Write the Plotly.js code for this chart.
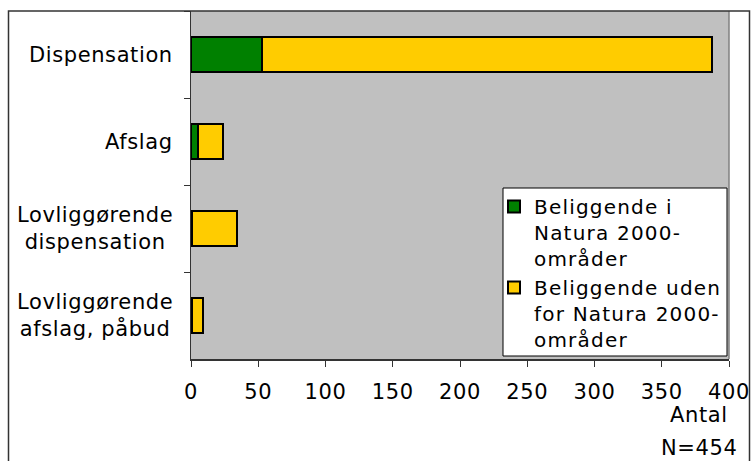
<!DOCTYPE html>
<html>
<head>
<meta charset="utf-8">
<script src="https://cdn.plot.ly/plotly-3.0.1.min.js"></script>
<style>
html,body{margin:0;padding:0;background:#fff;}
#chart{width:751px;height:461px;}
.annotation-text, .xtick text { letter-spacing: 0.6px; }
.legendtext { letter-spacing: 1.2px; }
</style>
</head>
<body>
<div id="chart"></div>
<script>
var categories = ['Dispensation', 'Afslag', 'Lovliggørende dispensation', 'Lovliggørende afslag, påbud'];
var categoryLabels = ['Dispensation', 'Afslag', 'Lovliggørende<br>dispensation', 'Lovliggørende<br>afslag, påbud'];
var inNatura = [53, 5, 1, 1];
var outsideNatura = [334, 19, 33, 8];
var seriesNames = ['Beliggende i<br>Natura 2000-<br>områder', 'Beliggende uden<br>for Natura 2000-<br>områder'];
var xTicks = [0, 50, 100, 150, 200, 250, 300, 350, 400];
var xTitle = 'Antal';
var nNote = 'N=454';

var W = 751, H = 461;
var L = 191, R = 729, T = 11, B = 359;
function px(x) { return (x - L) / (R - L); }
function py(y) { return (B - y) / (B - T); }

var FONT = 'DejaVu Sans, Verdana, sans-serif';

var traces = [
  {type: 'bar', orientation: 'h', y: categories, x: inNatura, name: seriesNames[0],
   marker: {color: '#008000', line: {color: '#000', width: 2}}},
  {type: 'bar', orientation: 'h', y: categories, x: outsideNatura, name: seriesNames[1],
   marker: {color: '#FFCC00', line: {color: '#000', width: 2}}}
];

var annotations = categories.map(function (c, i) {
  return {xref: 'paper', yref: 'y', x: px(174), y: c, text: categoryLabels[i],
    showarrow: false, xanchor: 'right', yanchor: 'middle', align: 'center', borderpad: 0,
    font: {family: FONT, size: 21, color: '#000'}};
});
annotations.push({xref: 'paper', yref: 'paper', x: 1, y: py(415), text: xTitle, showarrow: false,
  xanchor: 'right', yanchor: 'middle', borderpad: 0, font: {family: FONT, size: 21, color: '#000'}});
annotations.push({xref: 'paper', yref: 'paper', x: px(738), y: py(448), text: nNote, showarrow: false,
  xanchor: 'right', yanchor: 'middle', borderpad: 0, font: {family: FONT, size: 21, color: '#000'}});

var layout = {
  width: W, height: H,
  margin: {l: L, r: W - R, t: T, b: H - B, pad: 0},
  paper_bgcolor: '#fff',
  plot_bgcolor: '#C0C0C0',
  barmode: 'stack',
  bargap: 0.6,
  showlegend: true,
  font: {family: FONT, size: 21, color: '#000'},
  xaxis: {range: [0, 400], tickvals: xTicks, ticktext: xTicks.map(String), showgrid: false, zeroline: false,
    showline: true, linecolor: '#333', linewidth: 1.5, ticks: 'outside', ticklen: 6, tickwidth: 1,
    tickcolor: '#333', ticklabelstandoff: 7, tickfont: {family: FONT, size: 21, color: '#000'}, fixedrange: true},
  yaxis: {type: 'category', categoryorder: 'array', categoryarray: categories, autorange: 'reversed',
    showgrid: false, zeroline: false, showline: true, linecolor: '#333', linewidth: 1.5,
    ticks: 'outside', tickson: 'boundaries', ticklen: 6, tickwidth: 1, tickcolor: '#333',
    showticklabels: false, fixedrange: true},
  legend: {x: px(494), xanchor: 'left', y: py(187), yanchor: 'top', bgcolor: 'rgba(0,0,0,0)',
    borderwidth: 0, traceorder: 'normal', valign: 'top',
    font: {family: FONT, size: 20, color: '#000'}},
  annotations: annotations,
  shapes: [
    {type: 'line', xref: 'paper', yref: 'paper', x0: 1, x1: 1, y0: 0, y1: 1,
     line: {color: '#808080', width: 1.5}},
    {type: 'rect', xref: 'paper', yref: 'paper', x0: px(503), x1: px(727), y0: py(356), y1: py(188),
     line: {color: '#000', width: 1}, fillcolor: '#fff'},
    {type: 'rect', xref: 'paper', yref: 'paper', x0: px(8.5), x1: px(749.5), y0: py(480), y1: py(11),
     line: {color: '#333', width: 1.5}, fillcolor: 'rgba(0,0,0,0)'}
  ]
};

Plotly.newPlot('chart', traces, layout, {displayModeBar: false, staticPlot: true});
</script>
</body>
</html>
